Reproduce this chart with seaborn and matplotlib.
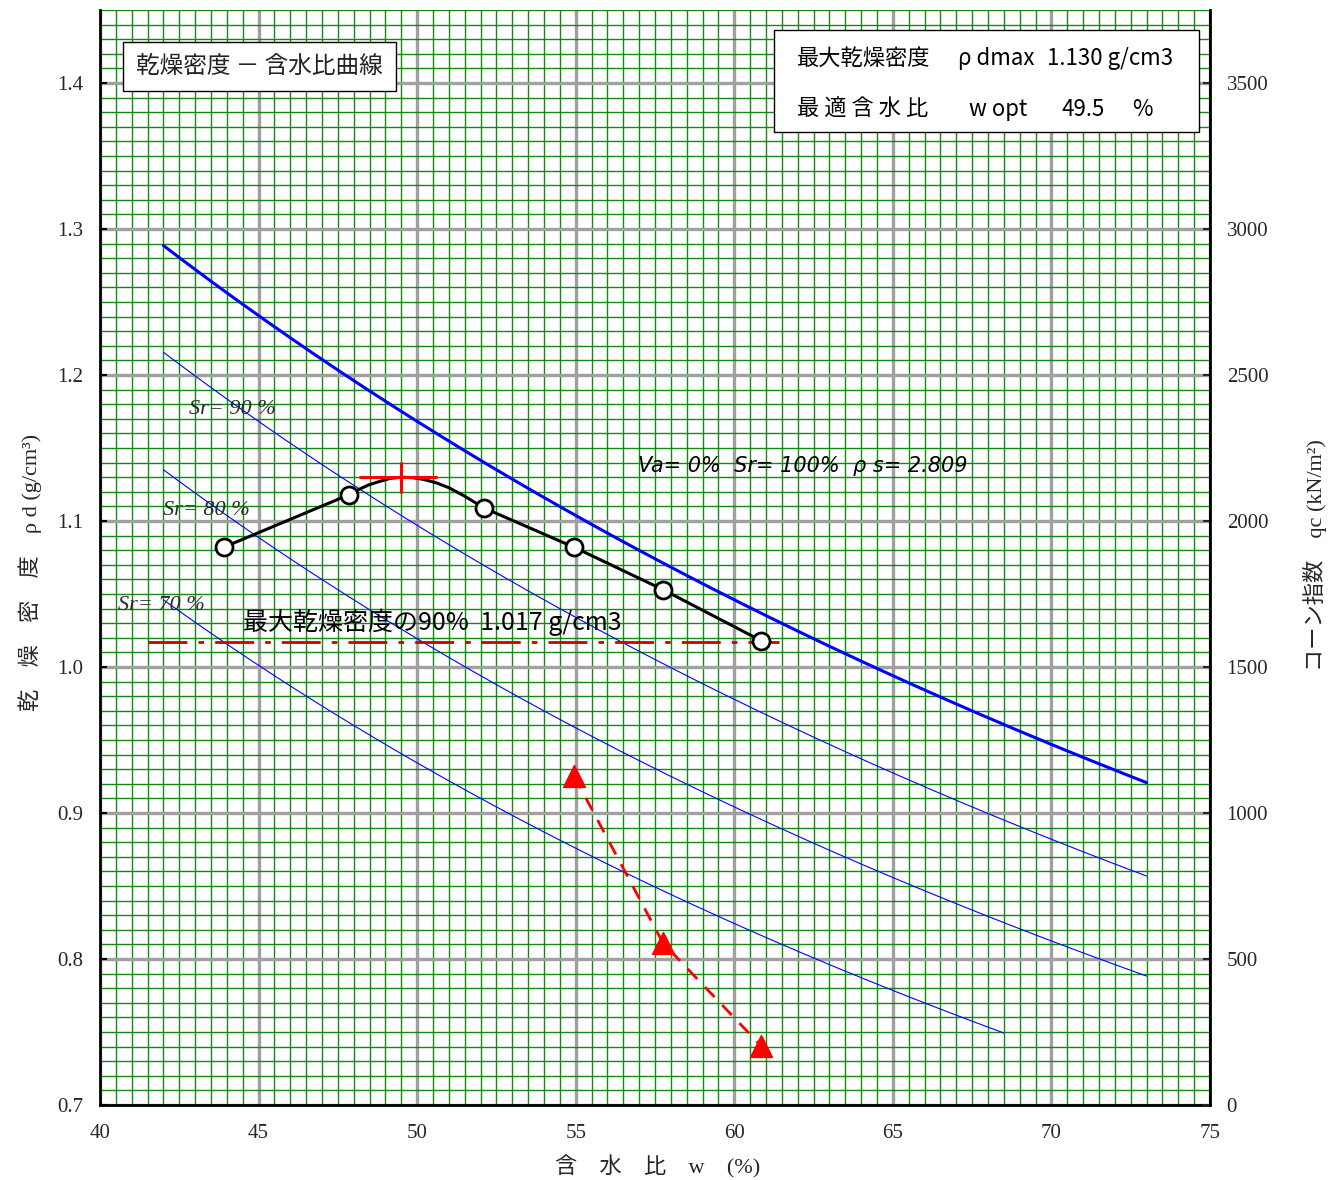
import numpy as np
import pandas as pd
import matplotlib
matplotlib.use("Agg")
import matplotlib.pyplot as plt
import seaborn as sns
from matplotlib.patches import Rectangle

# ---- data ----
# compaction test points (water content %, dry density g/cm3)
test_w = [43.9, 47.85, 52.1, 54.95, 57.75, 60.85]
test_rho = [1.082, 1.118, 1.109, 1.082, 1.053, 1.018]

# fitted compaction curve
curve_w = [43.9, 47.85, 48.15, 48.45, 48.8, 49.15, 49.5, 49.85, 50.2, 50.6, 51.0,
           51.5, 52.1, 54.95, 57.75, 60.85]
curve_rho = [1.082, 1.118, 1.1215, 1.1245, 1.127, 1.1292, 1.130, 1.1297, 1.1285,
             1.1262, 1.1228, 1.117, 1.109, 1.082, 1.053, 1.018]

# cone index qc (kN/m2)
cone_w = [54.95, 57.75, 60.85]
cone_qc = [1127, 555, 202]

rho_dmax = 1.130
w_opt = 49.5
rho_90 = 1.017
rho_s = 2.809

# saturation curves: (Sr %, w start, w end)
sat_levels = [100, 90, 80, 70]
sat_w_start = [42.0, 42.0, 42.0, 42.0]
sat_w_end = [73.0, 73.0, 73.0, 68.5]

x_ticks = [40, 45, 50, 55, 60, 65, 70, 75]
y_ticks = [0.7, 0.8, 0.9, 1.0, 1.1, 1.2, 1.3, 1.4]
qc_ticks = [0, 500, 1000, 1500, 2000, 2500, 3000, 3500]

# ---- style ----
sns.set_theme(style="white")
plt.rcParams["font.family"] = ["Liberation Serif", "Noto Sans CJK JP", "DejaVu Sans"]
CJK = ["Noto Sans CJK JP", "DejaVu Sans"]
SERIF = ["Liberation Serif", "Noto Sans CJK JP"]

fig = plt.figure(figsize=(13.41, 11.8), dpi=100)
ax = fig.add_axes([100 / 1341, 75 / 1180, 1110 / 1341, 1095 / 1180])
ax.set_xlim(40, 75)
ax.set_ylim(0.7, 1.45)

# graph-paper grid
ax.set_xticks(np.arange(40, 75.01, 0.5), minor=True)
ax.set_yticks(np.arange(0.7, 1.4501, 0.01), minor=True)
ax.set_xticks(x_ticks)
ax.set_yticks(y_ticks)
ax.grid(which="minor", color="#128a12", lw=1.0, zorder=0)
ax.grid(which="major", color="#a0a0a0", lw=2.4, zorder=0.5)
ax.set_axisbelow(True)

# saturation lines
sat_frames = []
for sr, w0, w1 in zip(sat_levels, sat_w_start, sat_w_end):
    w = np.linspace(w0, w1, 200)
    rho = 1.0 / (1.0 / rho_s + w / sr)
    sat_frames.append(pd.DataFrame({"w": w, "rho": rho, "Sr": sr}))
for df in sat_frames:
    sr = df["Sr"].iloc[0]
    sns.lineplot(data=df, x="w", y="rho", ax=ax, color="#0000ff",
                 lw=2.2 if sr == 100 else 0.8, zorder=3, sort=False)

# 90% of max dry density
sns.lineplot(x=[41.5, 61.4], y=[rho_90, rho_90], ax=ax, color="#cc0000",
             lw=2.0, zorder=4)
ax.lines[-1].set_dashes([14, 4, 2, 4])

# compaction curve
sns.lineplot(x=curve_w, y=curve_rho, ax=ax, color="black", lw=2.2, sort=False, zorder=5)
sns.scatterplot(x=test_w, y=test_rho, ax=ax, s=150, color="white",
                edgecolor="black", linewidth=2.0, zorder=6)

# max point cross
ax.plot([48.2, 50.6], [rho_dmax, rho_dmax], color="red", lw=2.2, zorder=7)
ax.plot([w_opt, w_opt], [rho_dmax - 0.01, rho_dmax + 0.01], color="red", lw=2.2, zorder=7)

ax.set_xlabel("")
ax.set_ylabel("")
ax.set_xticklabels([str(v) for v in x_ticks], fontsize=15, family="Liberation Serif")
ax.set_yticklabels([f"{v:.1f}" for v in y_ticks], fontsize=15, family="Liberation Serif")
ax.tick_params(axis="both", which="major", direction="in", length=5, width=1.5,
               color="black", pad=12)
ax.tick_params(axis="x", which="major", pad=14)
ax.tick_params(axis="both", which="minor", length=0)
for side in ["left", "bottom"]:
    ax.spines[side].set_color("black")
    ax.spines[side].set_linewidth(2.0)
ax.spines["top"].set_visible(False)

# cone index axis
ax2 = ax.twinx()
ax2.set_ylim(0, 3750)
ax2.set_yticks(qc_ticks)
ax2.set_yticklabels([str(v) for v in qc_ticks], fontsize=15, family="Liberation Serif")
ax2.tick_params(axis="y", direction="in", length=5, width=1.5, pad=12)
ax2.spines["right"].set_color("black")
ax2.spines["right"].set_linewidth(2.0)
ax2.spines["top"].set_visible(False)
ax2.spines["left"].set_visible(False)
ax2.spines["bottom"].set_visible(False)
ax2.grid(False)
sns.lineplot(x=cone_w, y=cone_qc, ax=ax2, color="red", lw=2.0, sort=False, zorder=5)
ax2.lines[-1].set_dashes([5, 4])
sns.scatterplot(x=cone_w, y=cone_qc, ax=ax2, marker="^", s=240, color="red",
                edgecolor="red", zorder=6)
ax2.set_ylabel("")

# annotations
for x0, y0, sr in [(42.8, 1.173, 90), (42.0, 1.104, 80), (40.57, 1.039, 70)]:
    ax.text(x0, y0, f"Sr= {sr} %", fontsize=16, style="italic", family="Liberation Serif",
            color="#2a2a2a", zorder=8)
ax.text(56.95, 1.138, f"Va= 0%  Sr= 100%  ρ s= {rho_s:.3f}", fontsize=15, style="italic",
        family="DejaVu Sans", color="black", zorder=8, va="center")
ax.text(44.5, 1.0305, f"最大乾燥密度の90%  {rho_90:.3f} g/cm3", fontsize=18, family=CJK,
        color="black", zorder=8, va="center")

# title box
ax.text(0.1435, 0.948, "乾燥密度 － 含水比曲線", transform=ax.transAxes, fontsize=17,
        family=CJK, ha="center", va="center", zorder=9, color="#222222",
        bbox=dict(boxstyle="square,pad=0.55", facecolor="white", edgecolor="black", lw=1))

# result box
ax.add_patch(Rectangle((0.607, 0.889), 0.383, 0.093, transform=ax.transAxes,
                       facecolor="white", edgecolor="black", lw=1, zorder=9))


def px(x):
    return (x - 100) / 1110


row1, row2 = 0.9555, 0.909
box_items = [
    (797, row1, "最大乾燥密度"), (958, row1, "ρ dmax"), (1047, row1, f"{rho_dmax:.3f} g/cm3"),
    (797, row2, "最 適 含 水 比"), (969, row2, "w opt"), (1062, row2, f"{w_opt}"),
    (1132, row2, "%"),
]
for xp, yf, s in box_items:
    ax.text(px(xp), yf, s, transform=ax.transAxes, fontsize=16, family=CJK,
            va="center", zorder=10, color="black")

# axis titles
fig.text(658 / 1341, 1 - 1167 / 1180, "含　水　比　w　(%)", fontsize=16,
         family=SERIF, ha="center", va="center")
fig.text(30 / 1341, 1 - 572 / 1180, "乾　燥　密　度　ρ d (g/cm³)", fontsize=16, rotation=90,
         family=SERIF, ha="center", va="center")
fig.text(1315 / 1341, 1 - 555 / 1180, "コーン指数　qc (kN/m²)", fontsize=16, rotation=90,
         family=SERIF, ha="center", va="center")

fig.savefig("out.png", dpi=100, facecolor="white")
